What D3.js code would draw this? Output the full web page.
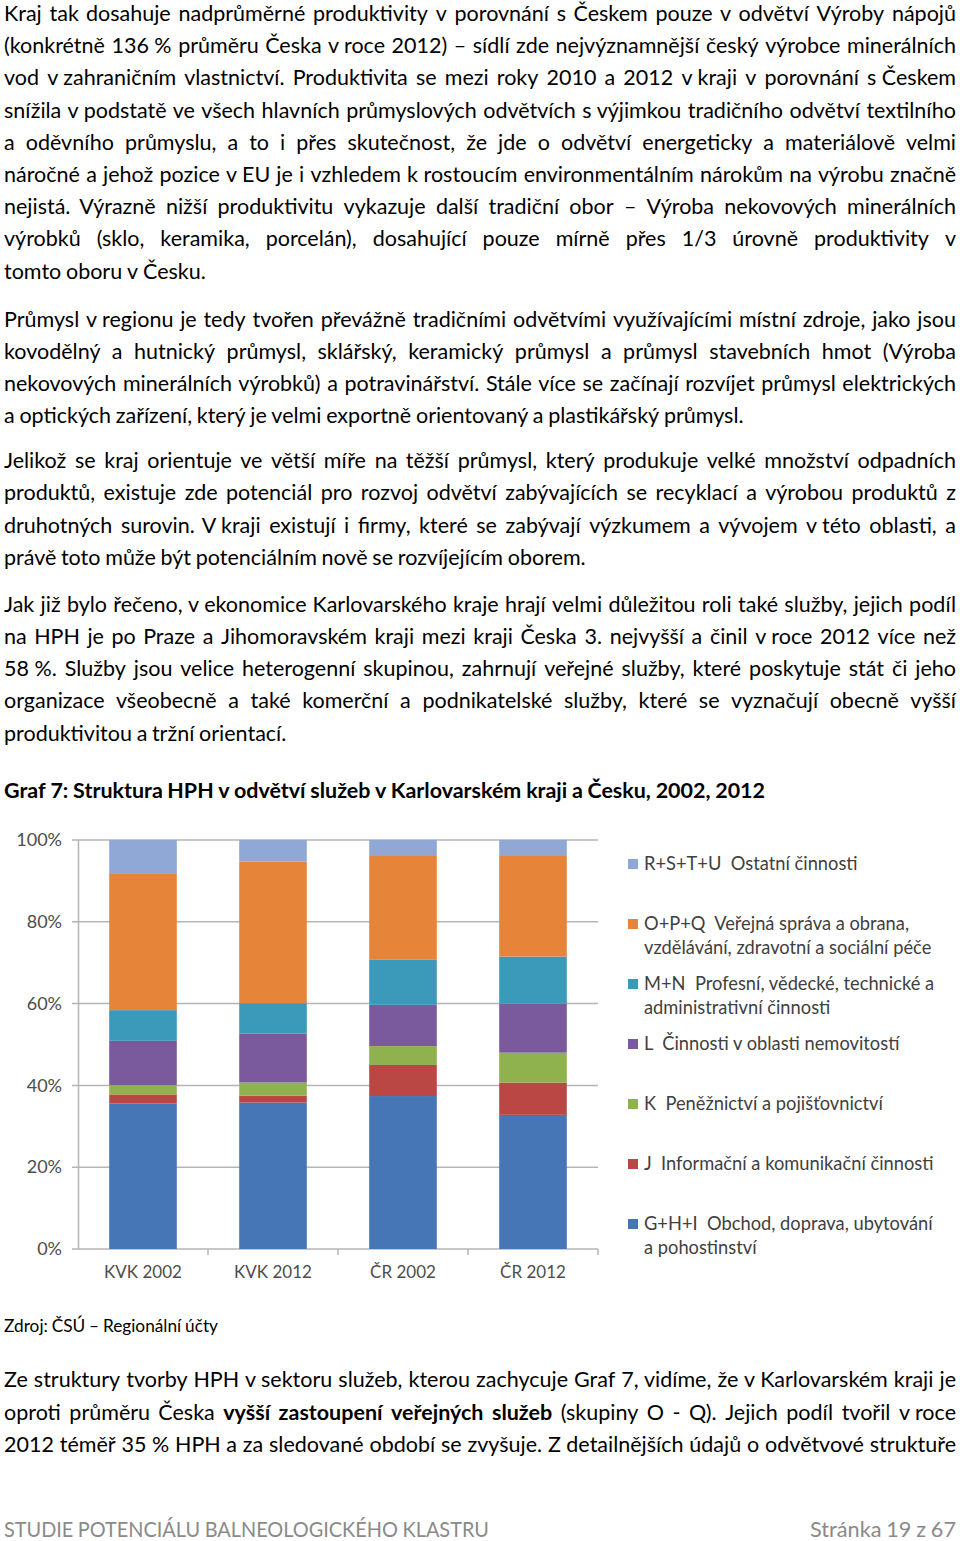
<!DOCTYPE html>
<html><head><meta charset="utf-8">
<script src="https://cdn.jsdelivr.net/npm/d3@7"></script>
<style>body{margin:0;background:#fff}svg{display:block}</style>
</head><body><svg id="page" width="960" height="1541"></svg>
<script>
// ---------- chart data ----------
const categories = ["KVK 2002", "KVK 2012", "ČR 2002", "ČR 2012"];
const seriesKeys = ["GHI", "J", "K", "L", "MN", "OPQ", "RSTU"]; // bottom to top
const valuesGHI  = [35.6, 35.8, 37.4, 32.8];
const valuesJ    = [2.2, 1.7, 7.6, 7.9];
const valuesK    = [2.3, 3.2, 4.6, 7.3];
const valuesL    = [10.8, 12.0, 10.1, 12.0];
const valuesMN   = [7.5, 7.4, 11.0, 11.5];
const valuesOPQ  = [33.3, 34.6, 25.6, 24.8];
const valuesRSTU = [8.3, 5.3, 3.7, 3.7];
const yTickValues = [0, 0.2, 0.4, 0.6, 0.8, 1.0];
const legendOrder = ["RSTU", "OPQ", "MN", "L", "K", "J", "GHI"];
const legendLabels = {
  RSTU: ["R+S+T+U  Ostatní činnosti"],
  OPQ: ["O+P+Q  Veřejná správa a obrana,", "vzdělávání, zdravotní a sociální péče"],
  MN: ["M+N  Profesní, vědecké, technické a", "administrativní činnosti"],
  L: ["L  Činnosti v oblasti nemovitostí"],
  K: ["K  Peněžnictví a pojišťovnictví"],
  J: ["J  Informační a komunikační činnosti"],
  GHI: ["G+H+I  Obchod, doprava, ubytování", "a pohostinství"]
};
const seriesColors = {
  GHI: "#4776b6", J: "#bb4744", K: "#8fb24f", L: "#7a5a9c",
  MN: "#3b9aba", OPQ: "#e6843a", RSTU: "#8fa8d6"
};

// ---------- page text ----------
const para1 = [
  "Kraj tak dosahuje nadprůměrné produktivity v porovnání s Českem pouze v odvětví Výroby nápojů",
  "(konkrétně 136\u00a0% průměru Česka v\u00a0roce 2012) – sídlí zde nejvýznamnější český výrobce minerálních",
  "vod v\u00a0zahraničním vlastnictví. Produktivita se mezi roky 2010 a 2012 v\u00a0kraji v porovnání s\u00a0Českem",
  "snížila v\u00a0podstatě ve všech hlavních průmyslových odvětvích s\u00a0výjimkou tradičního odvětví textilního",
  "a oděvního průmyslu, a to i přes skutečnost, že jde o odvětví energeticky a materiálově velmi",
  "náročné a jehož pozice v\u00a0EU je i vzhledem k\u00a0rostoucím environmentálním nárokům na výrobu značně",
  "nejistá. Výrazně nižší produktivitu vykazuje další tradiční obor – Výroba nekovových minerálních",
  "výrobků (sklo, keramika, porcelán), dosahující pouze mírně přes 1/3 úrovně produktivity v",
  "tomto oboru v\u00a0Česku."
];
const para2 = [
  "Průmysl v\u00a0regionu je tedy tvořen převážně tradičními odvětvími využívajícími místní zdroje, jako jsou",
  "kovodělný a hutnický průmysl, sklářský, keramický průmysl a průmysl stavebních hmot (Výroba",
  "nekovových minerálních výrobků) a potravinářství. Stále více se začínají rozvíjet průmysl elektrických",
  "a optických zařízení, který je velmi exportně orientovaný a plastikářský průmysl."
];
const para3 = [
  "Jelikož se kraj orientuje ve větší míře na těžší průmysl, který produkuje velké množství odpadních",
  "produktů, existuje zde potenciál pro rozvoj odvětví zabývajících se recyklací a výrobou produktů z",
  "druhotných surovin. V\u00a0kraji existují i firmy, které se zabývají výzkumem a vývojem v\u00a0této oblasti, a",
  "právě toto může být potenciálním nově se rozvíjejícím oborem."
];
const para4 = [
  "Jak již bylo řečeno, v\u00a0ekonomice Karlovarského kraje hrají velmi důležitou roli také služby, jejich podíl",
  "na HPH je po Praze a Jihomoravském kraji mezi kraji Česka 3. nejvyšší a činil v\u00a0roce 2012 více než",
  "58\u00a0%. Služby jsou velice heterogenní skupinou, zahrnují veřejné služby, které poskytuje stát či jeho",
  "organizace všeobecně a také komerční a podnikatelské služby, které se vyznačují obecně vyšší",
  "produktivitou a tržní orientací."
];
const para5 = [
  "Ze struktury tvorby HPH v\u00a0sektoru služeb, kterou zachycuje Graf 7, vidíme, že v\u00a0Karlovarském kraji je",
  "oproti průměru Česka *vyšší *zastoupení *veřejných *služeb (skupiny O - Q). Jejich podíl tvořil v\u00a0roce",
  "2012 téměř 35\u00a0% HPH a za sledované období se zvyšuje. Z detailnějších údajů o odvětvové struktuře"
];
const chartTitle = "Graf 7: Struktura HPH v odvětví služeb v Karlovarském kraji a Česku, 2002, 2012";
const sourceNote = "Zdroj: ČSÚ – Regionální účty";
const footerLeft = "STUDIE POTENCIÁLU BALNEOLOGICKÉHO KLASTRU";
const footerRight = "Stránka 19 z 67";

// ---------- drawing ----------
const FONT = "Lato, 'Open Sans', sans-serif";
const BODY = 21.5;
const svg = d3.select("#page");
svg.append("rect").attr("width", 960).attr("height", 1541).attr("fill", "#fff");

const textG = svg.append("g").attr("font-family", FONT).attr("fill", "#000");

function drawLine(g, str, x0, y, width, mode, size, opts = {}) {
  // mode: "left" natural, "justify" spread to width, "fit" scale to exact width
  const tokens = str.split(" ").filter(s => s.length);
  const t = g.append("text").attr("y", y).attr("font-size", size)
    .attr("font-weight", opts.weight || 400).attr("fill", opts.fill || "#000");
  const spans = tokens.map(tok => {
    const bold = tok.startsWith("*");
    const s = t.append("tspan").text(bold ? tok.slice(1) : tok);
    if (bold) s.attr("font-weight", 700);
    return s;
  });
  const widths = spans.map(s => s.node().getComputedTextLength());
  const sum = d3.sum(widths);
  let gap = size * 0.22;
  let scale = 1;
  if (mode === "justify" && tokens.length > 1) {
    gap = (width - sum) / (tokens.length - 1);
    const minGap = size * 0.16;
    if (gap < minGap) {
      gap = minGap;
      scale = width / (sum + gap * (tokens.length - 1));
    }
  } else if (mode === "fit") {
    scale = width / (sum + gap * (tokens.length - 1));
  }
  let x = 0;
  spans.forEach((s, i) => { s.attr("x", x); x += widths[i] + gap; });
  t.attr("transform", `translate(${x0},0) scale(${scale},1)`);
  return t;
}

function drawPara(lines, y0, step, lastJustified) {
  lines.forEach((l, i) => {
    const isLast = i === lines.length - 1;
    drawLine(textG, l, 4, y0 + i * step, 952, (!isLast || lastJustified) ? "justify" : "left", BODY);
  });
}
drawPara(para1, 21, 32.2, false);
drawPara(para2, 326.5, 32.2, false);
drawPara(para3, 468, 32.3, false);
drawPara(para4, 611.5, 32.3, false);
drawPara(para5, 1387, 32.5, true);

drawLine(textG, chartTitle, 4, 798, 761, "fit", 21.5, {weight: 700});
drawLine(textG, sourceNote, 4, 1332, 214, "fit", 17);

drawLine(textG, footerLeft, 4, 1537, 485, "fit", 20.5, {fill: "#8a8a8a"});
drawLine(textG, footerRight, 810, 1537, 146, "fit", 20.5, {fill: "#8a8a8a"});

// ---------- chart ----------
const rows = categories.map((c, i) => ({
  cat: c, GHI: valuesGHI[i], J: valuesJ[i], K: valuesK[i], L: valuesL[i],
  MN: valuesMN[i], OPQ: valuesOPQ[i], RSTU: valuesRSTU[i]
}));
const stacked = d3.stack().keys(seriesKeys).offset(d3.stackOffsetExpand)(rows);

const plot = {left: 78, right: 598, top: 840, bottom: 1249};
const x = d3.scaleBand().domain(categories).range([plot.left, plot.right])
  .paddingInner(0.48).paddingOuter(0.24);
const y = d3.scaleLinear().domain([0, 1]).range([plot.bottom, plot.top]);

const chart = svg.append("g").attr("font-family", FONT);

// gridlines
chart.append("g").selectAll("line").data(yTickValues).join("line")
  .attr("x1", plot.left - 6).attr("x2", plot.right)
  .attr("y1", d => y(d)).attr("y2", d => y(d))
  .attr("stroke", "#b5b5b5").attr("stroke-width", 1.5);

// bars
chart.append("g").selectAll("g").data(stacked).join("g")
  .attr("fill", d => seriesColors[d.key])
  .selectAll("rect").data(d => d).join("rect")
  .attr("x", d => x(d.data.cat)).attr("width", x.bandwidth())
  .attr("y", d => y(d[1])).attr("height", d => y(d[0]) - y(d[1]));

// y axis
const yAxis = chart.append("g").attr("transform", `translate(${plot.left},0)`)
  .call(d3.axisLeft(y).tickValues(yTickValues).tickFormat(d3.format(".0%")).tickSize(0).tickPadding(16));
yAxis.select(".domain").attr("stroke", "#b5b5b5").attr("stroke-width", 1.5);
yAxis.selectAll("text").attr("font-size", 18).attr("fill", "#4d4d4d").attr("font-family", FONT);

// x axis
const xAxis = chart.append("g").attr("transform", `translate(0,${plot.bottom})`)
  .call(d3.axisBottom(x).tickSize(0).tickPadding(17));
xAxis.select(".domain").remove();
xAxis.selectAll("text").attr("font-size", 17).attr("fill", "#4d4d4d").attr("font-family", FONT);
const boundaries = categories.map((c, i) => plot.left + x.step() * (i + 1));
chart.append("g").selectAll("line").data(boundaries).join("line")
  .attr("x1", d => d).attr("x2", d => d)
  .attr("y1", plot.bottom).attr("y2", plot.bottom + 6)
  .attr("stroke", "#b5b5b5").attr("stroke-width", 1.5);

// legend
const legend = chart.append("g").attr("transform", "translate(628,0)");
const legendY = d3.scalePoint().domain(legendOrder).range([864, 1224]);
legendOrder.forEach(k => {
  const g = legend.append("g").attr("transform", `translate(0,${legendY(k)})`);
  g.append("rect").attr("x", 0).attr("y", -5).attr("width", 10).attr("height", 10)
    .attr("fill", seriesColors[k]);
  legendLabels[k].forEach((ln, i) => {
    g.append("text").attr("x", 16).attr("y", 6 + i * 23.5)
      .attr("font-size", 18.3).attr("fill", "#404040")
      .style("white-space", "pre").text(ln);
  });
});
</script>
</body></html>
